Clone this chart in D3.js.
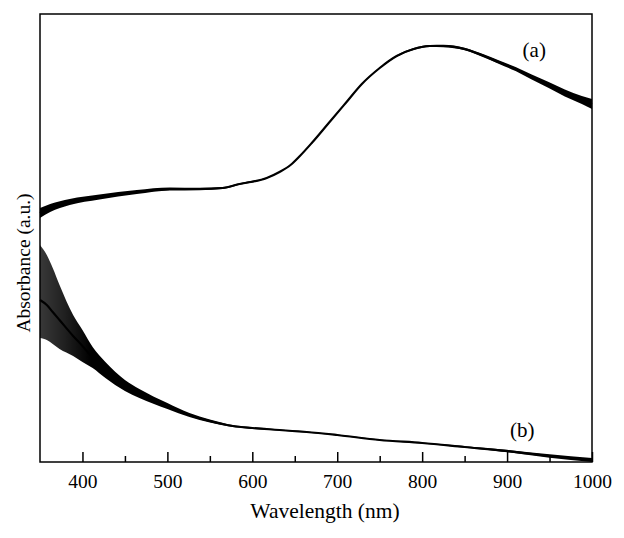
<!DOCTYPE html>
<html>
<head>
<meta charset="utf-8">
<script src="https://cdn.jsdelivr.net/npm/d3@7"></script>
<style>
  html, body { margin: 0; padding: 0; background: #fff; }
  svg { display: block; }
</style>
</head>
<body>
<script>
// ---- data (absorbance in arbitrary units) ----
const wavelengthA = [350, 362, 385, 420, 464, 503, 538, 565, 585, 617, 632, 645, 656, 670, 690, 710, 729, 750, 770, 790, 809, 825, 850, 870, 890, 910, 929, 949, 968, 988, 1000];
const absorbanceA = [2.49, 2.54, 2.60, 2.65, 2.70, 2.73, 2.73, 2.74, 2.78, 2.84, 2.90, 2.97, 3.06, 3.19, 3.39, 3.59, 3.78, 3.94, 4.06, 4.13, 4.16, 4.16, 4.13, 4.07, 4.00, 3.93, 3.85, 3.77, 3.69, 3.62, 3.58];
// half-width of the noise band of curve (a)
const noiseA =      [0.05, 0.04, 0.03, 0.025, 0.02, 0.015, 0.012, 0.01, 0.008, 0.006, 0.006, 0.006, 0.006, 0.006, 0.006, 0.006, 0.006, 0.006, 0.008, 0.01, 0.01, 0.012, 0.013, 0.015, 0.017, 0.02, 0.025, 0.03, 0.035, 0.04, 0.05];

const wavelengthB = [350, 358, 365, 373, 389, 400, 412, 427, 450, 467, 500, 526, 550, 577, 600, 632, 647, 664, 700, 750, 800, 850, 900, 950, 1000];
const absorbanceB = [1.62, 1.57, 1.50, 1.42, 1.26, 1.16, 1.04, 0.91, 0.76, 0.68, 0.56, 0.47, 0.41, 0.36, 0.34, 0.32, 0.31, 0.30, 0.27, 0.22, 0.19, 0.15, 0.11, 0.06, 0.02];
// upper / lower extent of the noise band of curve (b)
const noiseUpB =    [0.55, 0.50, 0.44, 0.35, 0.21, 0.16, 0.11, 0.09, 0.06, 0.05, 0.03, 0.02, 0.015, 0.01, 0.008, 0.006, 0.006, 0.006, 0.006, 0.006, 0.006, 0.008, 0.012, 0.018, 0.02];
const noiseDownB =  [0.38, 0.35, 0.32, 0.29, 0.20, 0.16, 0.10, 0.07, 0.05, 0.04, 0.03, 0.02, 0.015, 0.01, 0.008, 0.006, 0.006, 0.006, 0.006, 0.006, 0.006, 0.008, 0.012, 0.018, 0.02];

const majorTicks = [400, 500, 600, 700, 800, 900, 1000];
const minorTicks = [450, 550, 650, 750, 850, 950];
const xDomain = [350, 1000];
const yDomain = [0, 4.48];

const seriesLabels = [
  { text: "(a)", wl: 932, abs: 4.05 },
  { text: "(b)", wl: 918, abs: 0.25 }
];

// ---- layout ----
const W = 624, H = 538;
const m = { left: 40, right: 32, top: 14, bottom: 76 };
const FONT = "'Liberation Serif', 'DejaVu Serif', serif";

const svg = d3.select("body").append("svg").attr("width", W).attr("height", H);

const x = d3.scaleLinear().domain(xDomain).range([m.left, W - m.right]);
const y = d3.scaleLinear().domain(yDomain).range([H - m.bottom, m.top]);

const dataA = wavelengthA.map((w, i) => ({ w, a: absorbanceA[i], up: noiseA[i], dn: noiseA[i] }));
const dataB = wavelengthB.map((w, i) => ({ w, a: absorbanceB[i], up: noiseUpB[i], dn: noiseDownB[i] }));

// gradient so the very noisy start of (b) reads as spiky rather than solid
const defs = svg.append("defs");
const grad = defs.append("linearGradient").attr("id", "noiseB")
  .attr("gradientUnits", "userSpaceOnUse")
  .attr("x1", x(350)).attr("x2", x(410)).attr("y1", 0).attr("y2", 0);
grad.append("stop").attr("offset", 0).attr("stop-color", "#000").attr("stop-opacity", 0.78);
grad.append("stop").attr("offset", 0.5).attr("stop-color", "#000").attr("stop-opacity", 0.88);
grad.append("stop").attr("offset", 1).attr("stop-color", "#000").attr("stop-opacity", 1);

const area = d3.area()
  .x(d => x(d.w))
  .y0(d => y(d.a - d.dn))
  .y1(d => y(d.a + d.up))
  .curve(d3.curveMonotoneX);
const line = d3.line()
  .x(d => x(d.w))
  .y(d => y(d.a))
  .curve(d3.curveMonotoneX);

const plot = svg.append("g");
plot.append("path").datum(dataA).attr("d", area).attr("fill", "#000");
plot.append("path").datum(dataA).attr("d", line)
  .attr("fill", "none").attr("stroke", "#000").attr("stroke-width", 2.2);
plot.append("path").datum(dataB).attr("d", line)
  .attr("fill", "none").attr("stroke", "#000").attr("stroke-width", 2.2);
plot.append("path").datum(dataB).attr("d", area).attr("fill", "url(#noiseB)");

// ---- frame ----
svg.append("rect")
  .attr("x", x(xDomain[0])).attr("y", y(yDomain[1]))
  .attr("width", x(xDomain[1]) - x(xDomain[0]))
  .attr("height", y(yDomain[0]) - y(yDomain[1]))
  .attr("fill", "none").attr("stroke", "#000").attr("stroke-width", 1.5);

// ---- x axis (inward ticks) ----
const xAxis = svg.append("g").attr("transform", `translate(0,${y(yDomain[0])})`);
xAxis.call(d3.axisBottom(x).tickValues(majorTicks).tickSize(-10).tickPadding(12).tickFormat(d3.format("d")));
xAxis.append("g").call(d3.axisBottom(x).tickValues(minorTicks).tickSize(-6).tickFormat(""));
xAxis.selectAll(".domain").remove();
xAxis.selectAll("line").attr("stroke", "#000").attr("stroke-width", 1.5);
xAxis.selectAll("text")
  .attr("font-family", FONT).attr("font-size", 19.5).attr("fill", "#000");

// ---- axis titles ----
svg.append("text")
  .attr("x", (x(xDomain[0]) + x(xDomain[1])) / 2 + 9)
  .attr("y", 518)
  .attr("text-anchor", "middle")
  .attr("font-family", FONT).attr("font-size", 21.5)
  .text("Wavelength (nm)");

svg.append("text")
  .attr("transform", `translate(30,263) rotate(-90)`)
  .attr("text-anchor", "middle")
  .attr("font-family", FONT).attr("font-size", 19.5)
  .text("Absorbance (a.u.)");

// ---- series labels ----
svg.selectAll(".slabel").data(seriesLabels).enter().append("text")
  .attr("class", "slabel")
  .attr("x", d => x(d.wl)).attr("y", d => y(d.abs))
  .attr("text-anchor", "middle")
  .attr("font-family", FONT).attr("font-size", 21)
  .text(d => d.text);
</script>
</body>
</html>
